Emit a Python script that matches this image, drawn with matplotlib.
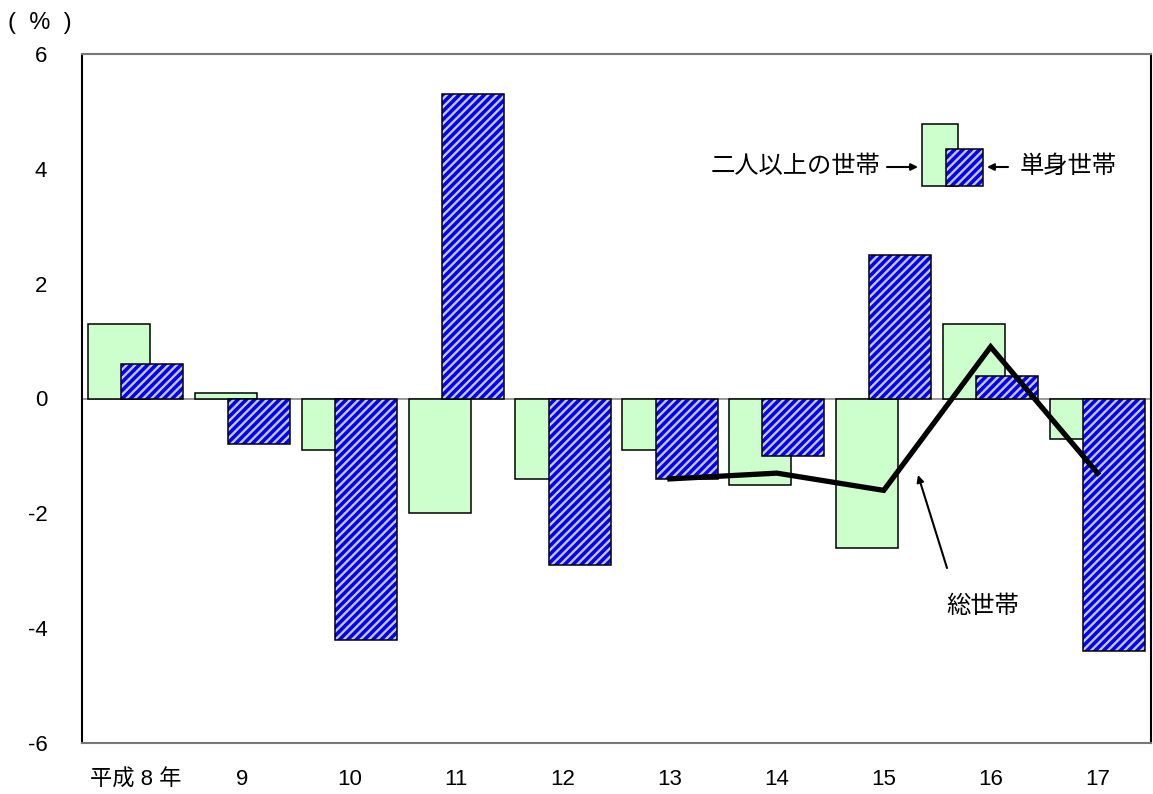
import matplotlib
matplotlib.use("Agg")
import matplotlib.pyplot as plt
from matplotlib.patches import Rectangle
import numpy as np

plt.rcParams['font.family'] = ['Liberation Sans', 'Noto Sans CJK JP', 'DejaVu Sans']
plt.rcParams['hatch.linewidth'] = 1.7

# 世帯別の変化率（%）
years = ['平成 8 年', '9', '10', '11', '12', '13', '14', '15', '16', '17']
multi = [1.3, 0.1, -0.9, -2.0, -1.4, -0.9, -1.5, -2.6, 1.3, -0.7]      # 二人以上の世帯
single = [0.6, -0.8, -4.2, 5.3, -2.9, -1.4, -1.0, 2.5, 0.4, -4.4]     # 単身世帯
total_years = ['13', '14', '15', '16', '17']
total = [-1.4, -1.3, -1.6, 0.9, -1.3]                                  # 総世帯

GREEN = '#ccffcc'
BLUE = '#0000ff'
STRIPE = '#c8c8dc'

fig = plt.figure(figsize=(11.53, 7.94), dpi=100)
ax = fig.add_axes([82 / 1153, 51 / 794, 1069 / 1153, 689 / 794])

x = np.arange(len(years))
w = 0.58
ax.bar(x - 0.155, multi, width=w, color=GREEN, edgecolor='black', linewidth=1.1, zorder=2)
# 斜線模様の単身世帯：模様を先に描き、その上に黒枠を重ねる
ax.bar(x + 0.155, single, width=w, color=BLUE, edgecolor=STRIPE, linewidth=0,
       hatch='////', zorder=3)
ax.bar(x + 0.155, single, width=w, fill=False, edgecolor='black', linewidth=1.1, zorder=4)

ax.axhline(0, color='#888888', linewidth=1.2, zorder=1)

tx = [years.index(y) for y in total_years]
ax.plot(tx, total, color='black', linewidth=3.8, solid_joinstyle='miter', zorder=5)

ax.set_xlim(-0.5, len(years) - 0.5)
ax.set_ylim(-6, 6)
ax.set_yticks(np.arange(-6, 7, 2))
ax.set_yticklabels([str(v) for v in range(-6, 7, 2)])
ax.set_xticks(x)
ax.set_xticklabels(years)
ax.tick_params(axis='both', length=0, labelsize=16)
ax.tick_params(axis='y', pad=25)
ax.tick_params(axis='x', pad=19)

for side in ['top', 'bottom']:
    ax.spines[side].set_color('#777777')
    ax.spines[side].set_linewidth(1.5)
for side in ['left', 'right']:
    ax.spines[side].set_color('black')
    ax.spines[side].set_linewidth(1.5)

fig.text(8 / 1153, 1 - 23 / 794, '(  %  )', fontsize=17, va='center', ha='left')

# 凡例（見本の棒と矢印）
fig.patches.append(Rectangle((922 / 1153, 1 - 186 / 794), 36 / 1153, 62 / 794,
                             transform=fig.transFigure, facecolor=GREEN,
                             edgecolor='black', linewidth=1.1, zorder=10))
fig.patches.append(Rectangle((946 / 1153, 1 - 186 / 794), 37 / 1153, 37 / 794,
                             transform=fig.transFigure, facecolor=BLUE,
                             edgecolor=STRIPE, linewidth=0, hatch='////', zorder=11))
fig.patches.append(Rectangle((946 / 1153, 1 - 186 / 794), 37 / 1153, 37 / 794,
                             transform=fig.transFigure, fill=False,
                             edgecolor='black', linewidth=1.1, zorder=12))

fig.text(880 / 1153, 1 - 167 / 794, '二人以上の世帯', fontsize=17.5, ha='right', va='center')
fig.text(1020 / 1153, 1 - 167 / 794, '単身世帯', fontsize=17.5, ha='left', va='center')
ax.annotate('', xy=(918 / 1153, 1 - 167 / 794), xytext=(887 / 1153, 1 - 167 / 794),
            xycoords='figure fraction', textcoords='figure fraction',
            arrowprops=dict(arrowstyle='-|>', color='black', lw=1.5,
                            mutation_scale=10, shrinkA=0, shrinkB=0))
ax.annotate('', xy=(987 / 1153, 1 - 167 / 794), xytext=(1008 / 1153, 1 - 167 / 794),
            xycoords='figure fraction', textcoords='figure fraction',
            arrowprops=dict(arrowstyle='-|>', color='black', lw=1.5,
                            mutation_scale=10, shrinkA=0, shrinkB=0))

# 総世帯の注記
fig.text(983 / 1153, 1 - 607 / 794, '総世帯', fontsize=17.5, ha='center', va='center')
ax.annotate('', xy=(918 / 1153, 1 - 475 / 794), xytext=(947 / 1153, 1 - 568 / 794),
            xycoords='figure fraction', textcoords='figure fraction',
            arrowprops=dict(arrowstyle='-|>', color='black', lw=1.5,
                            mutation_scale=10, shrinkA=0, shrinkB=0))

fig.savefig('out.png', dpi=100)
